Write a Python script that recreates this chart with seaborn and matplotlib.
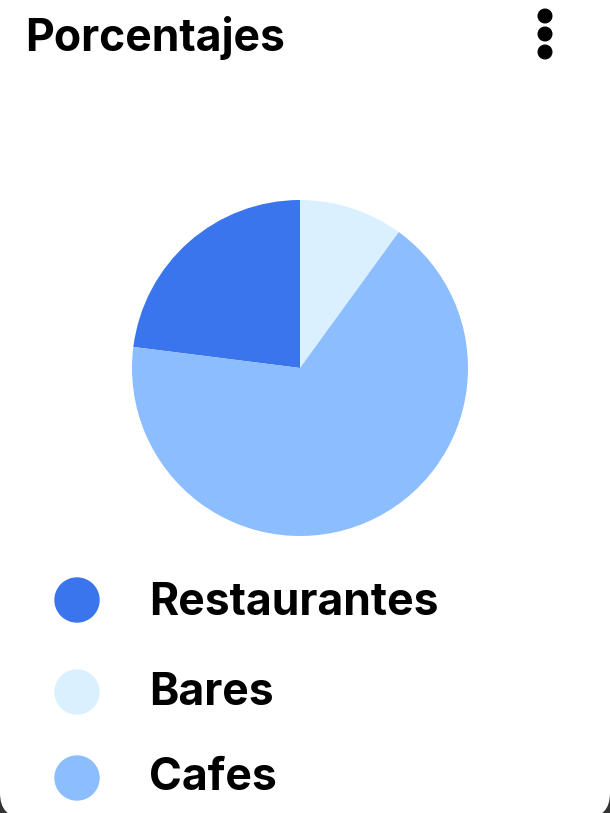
import matplotlib
matplotlib.use("Agg")
import matplotlib.pyplot as plt
from matplotlib.patches import Circle, FancyBboxPatch
import seaborn as sns

# datos
categorias = ["Restaurantes", "Bares", "Cafes"]
porcentajes = [23, 10, 67]
colores = ["#3a75ee", "#dbf0ff", "#8bbdff"]
titulo = "Porcentajes"

sns.set_theme(style="white")
plt.rcParams['font.family'] = ['Inter', 'DejaVu Sans']

W, H = 610, 813
fig = plt.figure(figsize=(W / 100, H / 100), dpi=100)
fig.patch.set_facecolor("#333333")

# capa de fondo en pixeles para titulo y leyenda
bg = fig.add_axes([0, 0, 1, 1])
bg.set_xlim(0, W)
bg.set_ylim(H, 0)
bg.axis("off")

# tarjeta blanca con esquinas redondeadas
bg.add_patch(FancyBboxPatch((0, -60), W, H + 65,
                            boxstyle="round,pad=0,rounding_size=25",
                            facecolor="white", edgecolor="none"))

bg.text(25, 51, titulo, fontsize=32, fontweight="bold", color="black",
        ha="left", va="baseline")

# menu de tres puntos
for yy in (16, 34, 52):
    bg.add_patch(Circle((545, yy), 6.8, color="black"))

# pastel
cx, cy, r = 300, 368, 168
ax = fig.add_axes([(cx - r) / W, (H - cy - r) / H, 2 * r / W, 2 * r / H])
inicio = 90 + 360 * porcentajes[0] / sum(porcentajes)
ax.pie(porcentajes, colors=colores, startangle=inicio, counterclock=False,
       wedgeprops=dict(linewidth=0))
ax.set_xlim(-1, 1)
ax.set_ylim(-1, 1)
ax.set_aspect("equal")
ax.axis("off")

# leyenda
filas = [(600, 615), (692, 705), (778, 790)]
for (yc, yb), cat, col in zip(filas, categorias, colores):
    bg.add_patch(Circle((77, yc), 22, color=col))
    bg.text(149, yb, cat, fontsize=32, fontweight="bold", color="black",
            ha="left", va="baseline")

fig.savefig("out.png", dpi=100, facecolor=fig.get_facecolor())
